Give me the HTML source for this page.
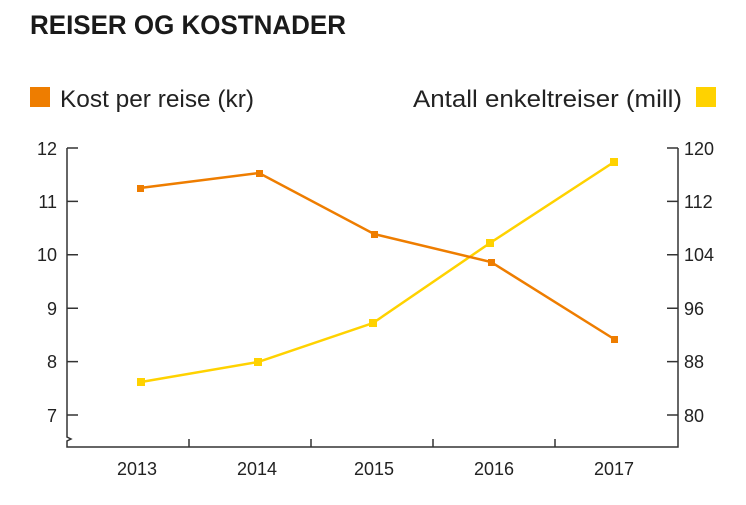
<!DOCTYPE html>
<html><head><meta charset="utf-8"><style>
body{margin:0;background:#fff;width:746px;height:500px;overflow:hidden;font-family:"Liberation Sans","DejaVu Sans",sans-serif}
</style></head><body>
<svg width="746" height="500" xmlns="http://www.w3.org/2000/svg" font-family="Liberation Sans, DejaVu Sans, sans-serif">
<text x="30" y="34" font-size="27" font-weight="bold" fill="#1a1a1a" textLength="316" lengthAdjust="spacingAndGlyphs">REISER OG KOSTNADER</text>
<rect x="30" y="87" width="20" height="20" fill="#ee7d00"/>
<text x="60" y="107" font-size="24" fill="#222" textLength="194" lengthAdjust="spacingAndGlyphs">Kost per reise (kr)</text>
<text x="413" y="107" font-size="24" fill="#222" textLength="269" lengthAdjust="spacingAndGlyphs">Antall enkeltreiser (mill)</text>
<rect x="696" y="87" width="20" height="20" fill="#ffd200"/>
<g stroke="#333" stroke-width="1.5" fill="none">
<path d="M67,148 V437 l4,2 l-4,2 V447 H678 V148"/>
<path d="M67,148 H78 M67,201.4 H78 M67,254.8 H78 M67,308.2 H78 M67,361.6 H78 M67,415 H78"/>
<path d="M678,148 H667 M678,201.4 H667 M678,254.8 H667 M678,308.2 H667 M678,361.6 H667 M678,415 H667"/>
<path d="M189,447 V439 M311,447 V439 M433,447 V439 M555,447 V439"/>
</g>
<g font-size="18" fill="#222" text-anchor="end">
<text x="57" y="155">12</text><text x="57" y="208">11</text><text x="57" y="261">10</text><text x="57" y="315">9</text><text x="57" y="368">8</text><text x="57" y="422">7</text>
</g>
<g font-size="18" fill="#222">
<text x="684" y="155">120</text><text x="684" y="208">112</text><text x="684" y="261">104</text><text x="684" y="315">96</text><text x="684" y="368">88</text><text x="684" y="422">80</text>
</g>
<g font-size="18" fill="#222" text-anchor="middle">
<text x="137" y="475">2013</text><text x="257" y="475">2014</text><text x="374" y="475">2015</text><text x="494" y="475">2016</text><text x="614" y="475">2017</text>
</g>
<polyline points="141,382 258,362 373,323 490,243 614,162" fill="none" stroke="#ffd200" stroke-width="2.5"/>
<g fill="#ffd200">
<rect x="137" y="378" width="8" height="8"/><rect x="254" y="358" width="8" height="8"/><rect x="369" y="319" width="8" height="8"/><rect x="486" y="239" width="8" height="8"/><rect x="610" y="158" width="8" height="8"/>
</g>
<polyline points="140,188 259,173 374,234 491,262 614,339" fill="none" stroke="#ee7d00" stroke-width="2.5"/>
<g fill="#ee7d00">
<rect x="137" y="185" width="7" height="7"/><rect x="256" y="170" width="7" height="7"/><rect x="371" y="231" width="7" height="7"/><rect x="488" y="259" width="7" height="7"/><rect x="611" y="336" width="7" height="7"/>
</g>
</svg>
</body></html>
